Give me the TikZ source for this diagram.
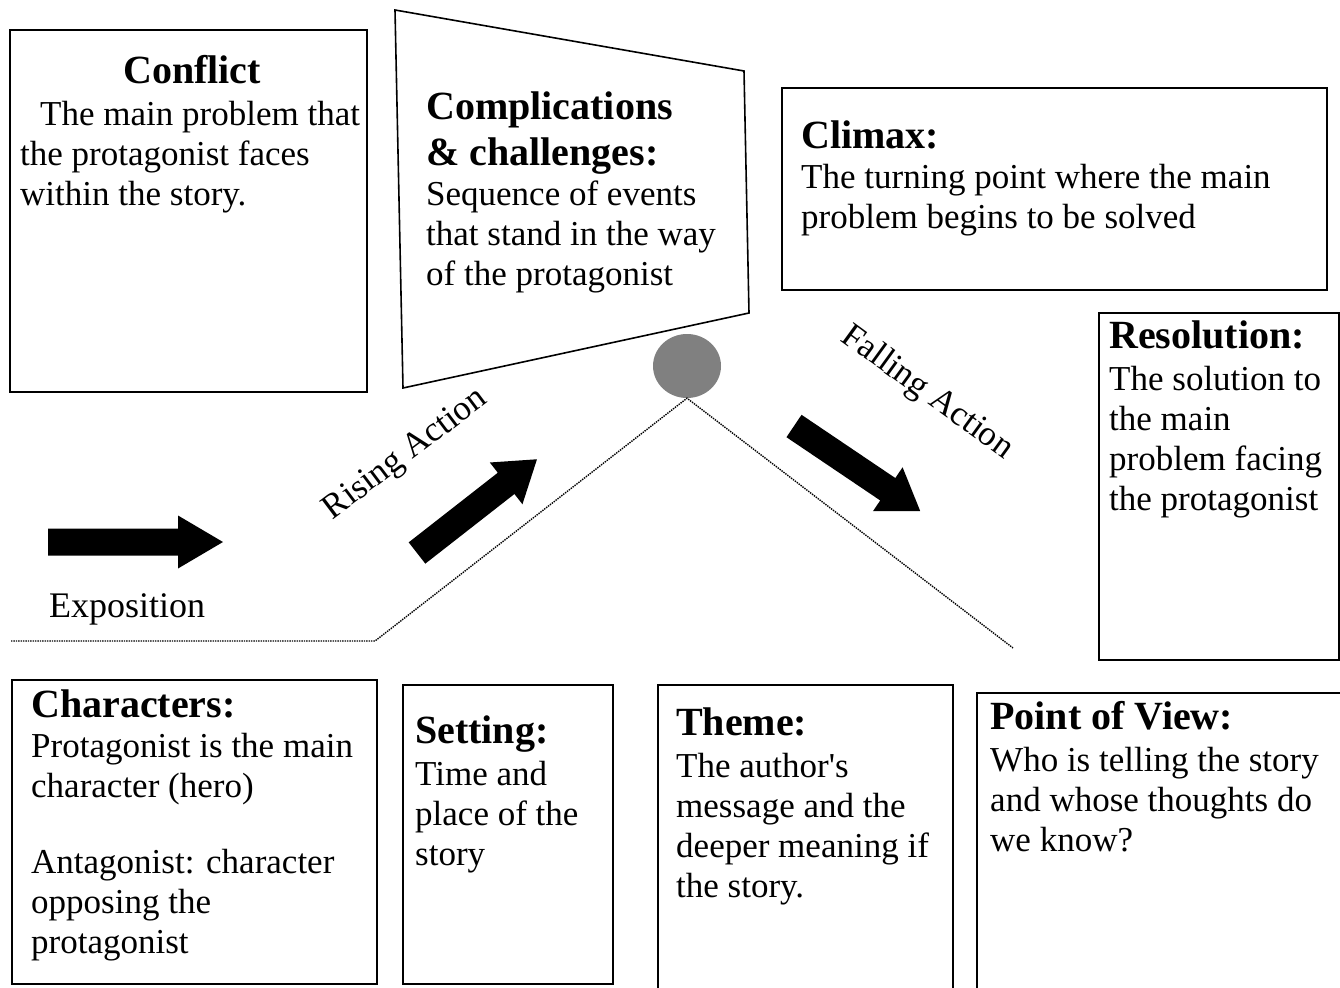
\documentclass[tikz,border=0pt]{standalone}
\usepackage{fontspec}
\setmainfont{Liberation Serif}
\usetikzlibrary{shapes.geometric}

\newcommand{\headtxt}[1]{{\fontsize{40}{46}\selectfont\bfseries #1}}

\tikzset{
  fatarrow/.pic={
    \fill (0,-13.5) -- (130,-13.5) -- (130,-26.5) -- (175,0) -- (130,26.5) -- (130,13.5) -- (0,13.5) -- cycle;
  }
}

\begin{document}
\begin{tikzpicture}[x=1pt,y=-1pt,
    box/.style={draw,line width=1.6pt,rectangle,anchor=north west,inner sep=0pt},
    txt/.style={anchor=north west,align=left,inner sep=0pt,font=\fontsize{35}{40}\selectfont},
    plotline/.style={densely dotted,line width=1.4pt},
    peak/.style={ellipse,fill=gray,inner sep=0pt,minimum width=68pt,minimum height=64pt}]
  \useasboundingbox (0,0) rectangle (1340,987);
  \clip (0,0) rectangle (1340,987);

  % plot line
  \node[peak] (climaxpt) at (687,366) {};
  \coordinate (start) at (11,641);
  \coordinate (base) at (375,641);
  \coordinate (finish) at (1013,648);
  \draw[plotline] (start) -- (base) -- (climaxpt.south) -- (finish);

  % top row
  \node[box,minimum width=357pt,minimum height=362pt] (conflict) at (9,29) {};
  \node[anchor=base,inner sep=0pt] (conflicthead) at (192,84) {\headtxt{Conflict}};
  \node[txt] (conflicttxt) at (20,101) {\hspace*{20pt}The main problem that\\the protagonist faces\\within the story.};

  \draw[line width=1.6pt] (395,10) -- (744,71) -- (749,313) -- (403,388) -- cycle;
  \node[txt] (complictxt) at (426,92) {\headtxt{Complications}\\[6pt]\headtxt{\& challenges:}\\Sequence of events\\that stand in the way\\of the protagonist};

  \node[box,minimum width=545pt,minimum height=202pt] (climax) at (781,87) {};
  \node[txt] (climaxtxt) at (801,121) {\headtxt{Climax:}\\The turning point where the main\\problem begins to be solved};

  \node[box,minimum width=240pt,minimum height=347pt] (resolution) at (1098,312) {};
  \node[txt] (resoltxt) at (1109,321) {\headtxt{Resolution:}\\[2pt]The solution to\\the main\\problem facing\\the protagonist};

  % arrows and labels
  \pic at (48,542) {fatarrow};
  \pic[rotate=38,xscale=0.87] at (417,553) {fatarrow};
  \pic[rotate=-34,xscale=0.87] at (794,426) {fatarrow};
  \node[anchor=base west,inner sep=0pt,font=\fontsize{36}{40}\selectfont] (expo) at (49,617) {Exposition};
  \node[rotate=37,inner sep=0pt,font=\fontsize{35}{40}\selectfont] (rising) at (406,455) {Rising Action};
  \node[rotate=-36,inner sep=0pt,font=\fontsize{35}{40}\selectfont] (falling) at (927,393) {Falling Action};

  % bottom row
  \node[box,minimum width=365pt,minimum height=304pt] (characters) at (11,679) {};
  \node[txt] (chartxt) at (31,690) {\headtxt{Characters:}\\Protagonist is the main\\character (hero)\\[36pt]Antagonist: character\\opposing the\\protagonist};

  \node[box,minimum width=210pt,minimum height=299pt] (setting) at (402,684) {};
  \node[txt] (settxt) at (415,716) {\headtxt{Setting:}\\[2pt]Time and\\place of the\\story};

  \node[box,minimum width=295pt,minimum height=330pt] (theme) at (657,684) {};
  \node[txt] (themetxt) at (676,708) {\headtxt{Theme:}\\[2pt]The author\textquotesingle s\\message and the\\deeper meaning if\\the story.};

  \node[box,minimum width=380pt,minimum height=330pt] (pov) at (976,692) {};
  \node[txt] (povtxt) at (990,701) {\headtxt{Point of View:}\\[2pt]Who is telling the story\\and whose thoughts do\\we know?};
\end{tikzpicture}
\end{document}
